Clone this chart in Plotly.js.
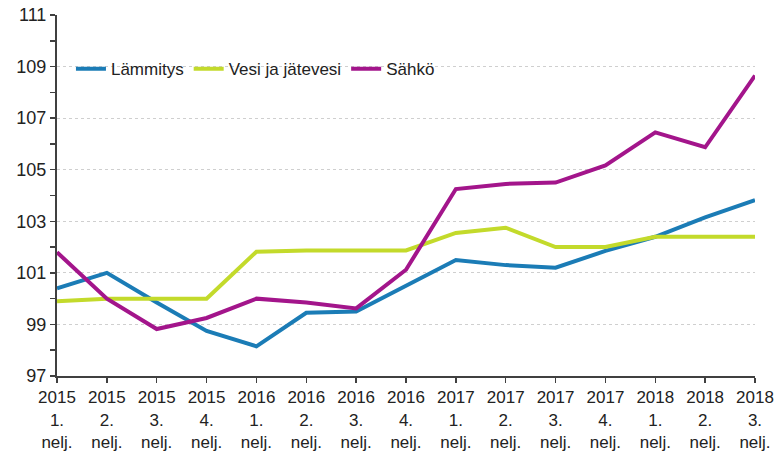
<!DOCTYPE html>
<html><head><meta charset="utf-8">
<script src="https://cdn.plot.ly/plotly-3.0.1.min.js"></script>
<style>body{margin:0;background:#fff}#c{width:781px;height:452px}</style>
</head><body><div id="c"></div>
<script>
const categories = ["2015<br>1.<br>nelj.","2015<br>2.<br>nelj.","2015<br>3.<br>nelj.","2015<br>4.<br>nelj.",
  "2016<br>1.<br>nelj.","2016<br>2.<br>nelj.","2016<br>3.<br>nelj.","2016<br>4.<br>nelj.",
  "2017<br>1.<br>nelj.","2017<br>2.<br>nelj.","2017<br>3.<br>nelj.","2017<br>4.<br>nelj.",
  "2018<br>1.<br>nelj.","2018<br>2.<br>nelj.","2018<br>3.<br>nelj."];
const seriesNames = ["Lämmitys","Vesi ja jätevesi","Sähkö"];
const lammitys = [100.4,101.0,99.85,98.75,98.15,99.45,99.5,100.5,101.5,101.3,101.2,101.85,102.4,103.15,103.82];
const vesi = [99.9,100.0,100.0,100.0,101.82,101.87,101.87,101.87,102.55,102.75,102.0,102.0,102.4,102.4,102.4];
const sahko = [101.8,100.0,98.82,99.25,100.0,99.85,99.62,101.12,104.25,104.45,104.5,105.17,106.45,105.87,108.65];
const colors = ["#1b7cb6","#c3da2b","#a3158b"];

const data = [lammitys, vesi, sahko].map((v,i)=>({
  x: categories, y: v, name: seriesNames[i], type:'scatter', mode:'lines',
  line:{color:colors[i], width:4}
}));
const layout = {
  width:781, height:452,
  margin:{l:57, r:26, t:15, b:76},
  paper_bgcolor:'#fff', plot_bgcolor:'#fff',
  font:{family:'"Liberation Sans", Arial, sans-serif', size:17, color:'#222'},
  showlegend:true,
  legend:{orientation:'h', x:0.02, y:0.85, xanchor:'left', yanchor:'middle',
    bgcolor:'rgba(0,0,0,0)', font:{size:17, color:'#222'}, itemwidth:30, tracegroupgap:0},
  xaxis:{type:'category', range:[0,14], showgrid:false, zeroline:false,
    showline:true, linecolor:'#404040', linewidth:2,
    ticks:'outside', ticklen:5, tickcolor:'#404040', tickwidth:1.5,
    tickfont:{size:17, color:'#222'}},
  yaxis:{range:[97,111], tick0:97, dtick:2, showgrid:true, gridcolor:'#cfcfcf', griddash:'dot', gridwidth:1,
    zeroline:false, showline:true, linecolor:'#404040', linewidth:2,
    ticks:'outside', ticklen:5, tickcolor:'#404040', tickwidth:1.5,
    minor:{dtick:1, tick0:97, ticks:'outside', ticklen:5, tickcolor:'#404040', tickwidth:1.5, showgrid:false},
    tickfont:{size:18, color:'#222'}}
};
Plotly.newPlot('c', data, layout, {staticPlot:true});
</script></body></html>
